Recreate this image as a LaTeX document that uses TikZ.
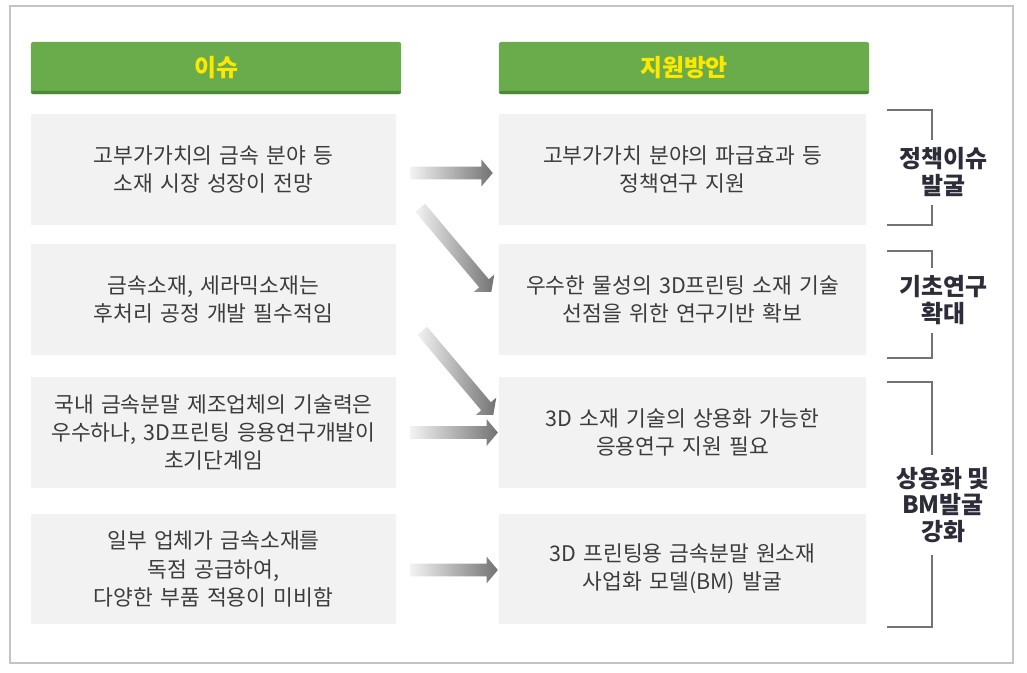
\documentclass[tikz,border=0pt]{standalone}
\usepackage{fontspec}
\setmainfont{Noto Sans CJK KR}
\definecolor{hdgreen}{RGB}{106,172,76}
\definecolor{hddark}{RGB}{76,138,56}
\definecolor{hdyellow}{RGB}{255,232,0}
\definecolor{boxgray}{RGB}{242,242,242}
\definecolor{txtgray}{RGB}{60,60,60}
\definecolor{lblnavy}{RGB}{45,45,58}
\definecolor{framegray}{RGB}{196,196,196}
\usetikzlibrary{shapes.arrows, positioning}

\begin{document}
\begin{tikzpicture}[x=0.025cm, y=-0.025cm]
    \tikzset{
        header/.style={rectangle, fill=hdgreen, rounded corners=1.5pt, minimum width=9.25cm, minimum height=1.3cm,
            text=hdyellow, font=\fontsize{17}{20}\selectfont\bfseries,
            path picture={\fill[hddark] (path picture bounding box.south west) rectangle ([yshift=2.2pt]path picture bounding box.south east);}},
        issuebox/.style={rectangle, fill=boxgray, minimum width=9.125cm, minimum height=2.75cm, text width=8.9cm, align=center,
            text=txtgray, font=\fontsize{15.3}{20}\selectfont},
        planbox/.style={issuebox, minimum width=9.175cm},
        garrow/.style={single arrow, shading=axis, left color=black!5, right color=black!55, draw=none,
            inner sep=0.15cm, single arrow head extend=0.18cm, single arrow tip angle=100},
        bracket/.style={draw=black!55, line width=0.8pt},
        goal/.style={align=center, text=lblnavy, font=\fontsize{17}{19}\selectfont\bfseries}
    }
    \useasboundingbox (0,0) rectangle (1027,672);
    \draw[framegray, line width=0.8pt] (10,6) rectangle (1013,663);

    % headers
    \node[header] (h1) at (216,68) {이슈};
    \node[header] (h2) at (684,68) {지원방안};

    % issues
    \node[issuebox] (i1) at (213.5,169.5) {고부가가치의 금속 분야 등\\소재 시장 성장이 전망};
    \node[issuebox] (i2) at (213.5,299.5) {금속소재, 세라믹소재는\\후처리 공정 개발 필수적임};
    \node[issuebox] (i3) at (213.5,432.5) {국내 금속분말 제조업체의 기술력은\\우수하나, 3D프린팅 응용연구개발이\\초기단계임};
    \node[issuebox] (i4) at (213.5,569) {일부 업체가 금속소재를\\독점 공급하여,\\다양한 부품 적용이 미비함};

    % support plans
    \node[planbox] (s1) at (682.5,169.5) {고부가가치 분야의 파급효과 등\\정책연구 지원};
    \node[planbox] (s2) at (682.5,299.5) {우수한 물성의 3D프린팅 소재 기술\\선점을 위한 연구기반 확보};
    \node[planbox] (s3) at (682.5,432.5) {3D 소재 기술의 상용화 가능한\\응용연구 지원 필요};
    \node[planbox] (s4) at (682.5,569) {3D 프린팅용 금속분말 원소재\\사업화 모델(BM) 발굴};

    % arrows
    \path ([shift={(12,3.5)}]i1.east) -- ([shift={(-9,3.5)}]s1.west)
        node[garrow, midway, sloped, minimum height=2.05cm] (a1) {};
    \path ([shift={(22,-19)}]i1.south east) -- ([shift={(-9,-9.5)}]s2.west)
        node[garrow, midway, sloped, minimum height=2.75cm] (a2) {};
    \path ([shift={(24,-26)}]i2.south east) -- ([shift={(-7,-19.5)}]s3.west)
        node[garrow, midway, sloped, minimum height=2.75cm] (a3) {};
    \path ([shift={(12,0)}]i3.east) -- ([shift={(-4,0)}]s3.west)
        node[garrow, midway, sloped, minimum height=2.18cm] (a4) {};
    \path ([shift={(12,1)}]i4.east) -- ([shift={(-4,1)}]s4.west)
        node[garrow, midway, sloped, minimum height=2.18cm] (a5) {};

    % goals
    \node[goal] (g1) at (943,172) {정책이슈\\발굴};
    \node[goal] (g2) at (943,300) {기초연구\\확대};
    \node[goal] (g3) at (943,505) {상용화 및\\BM발굴\\강화};
    \draw[bracket] (887,110) -| (932,140);
    \draw[bracket] (932,205) |- (887,225);
    \draw[bracket] (887,251) -| (932,268);
    \draw[bracket] (932,333) |- (887,358);
    \draw[bracket] (887,382) -| (932,455);
    \draw[bracket] (932,555) |- (887,627);
\end{tikzpicture}
\end{document}
